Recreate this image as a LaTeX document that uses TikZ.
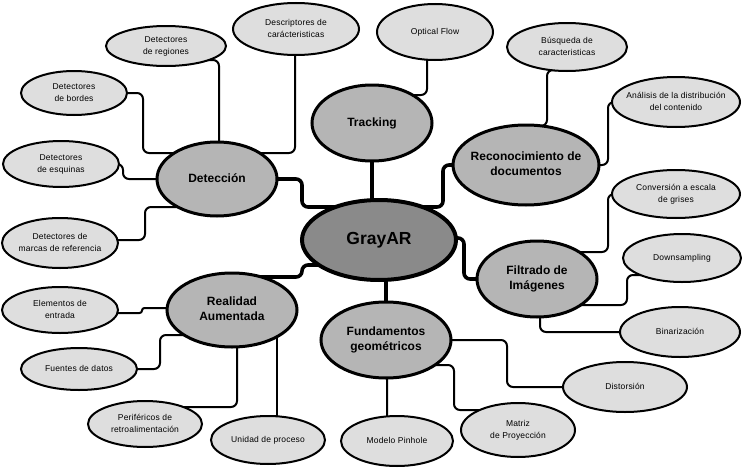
\documentclass[tikz,border=0pt]{standalone}
\usepackage{fontspec}
\setmainfont{Liberation Sans}
\newfontfamily\leaffont[LetterSpace=2]{Liberation Sans}
\usetikzlibrary{shapes.geometric,calc,backgrounds}
\definecolor{coregray}{HTML}{8A8A8A}
\definecolor{maingray}{HTML}{B5B5B5}
\definecolor{leafgray}{HTML}{DEDEDE}
\newcommand\lbl[1]{\makebox[0pt]{\begin{tabular}{@{}c@{}}#1\end{tabular}}}
\tikzset{
  ell/.style n args={2}{ellipse, inner sep=0pt, outer sep=0pt, minimum width=#1, minimum height=#2},
  core/.style={draw, line width=4pt, fill=coregray, font=\fontsize{17.5}{20}\selectfont\bfseries},
  mainnode/.style={draw, line width=3pt, fill=maingray, font=\fontsize{12}{15.5}\selectfont\bfseries},
  leafnode/.style={draw, line width=2pt, fill=leafgray, font=\leaffont\fontsize{8.5}{12}\selectfont},
  mainline/.style={line width=3.6pt, rounded corners=6pt},
  leafline/.style={line width=2pt, rounded corners=6pt},
}
\begin{document}
\begin{tikzpicture}[x=1pt,y=-1pt]
\useasboundingbox (0,0) rectangle (742,471);
% central and main nodes
\node[core, ell={154pt}{80pt}] (gray) at (379,240) {\lbl{GrayAR}};
\node[mainnode, ell={120pt}{76pt}] (trk) at (372,123) {\lbl{Tracking}};
\node[mainnode, ell={120pt}{74pt}] (det) at (217,179) {\lbl{Detección}};
\node[mainnode, ell={146pt}{80pt}] (rec) at (526,165) {\lbl{Reconocimiento de\\documentos}};
\node[mainnode, ell={120pt}{76pt}] (fil) at (537,279) {\lbl{Filtrado de\\Imágenes}};
\node[mainnode, ell={130pt}{74pt}] (ra) at (232,310) {\lbl{Realidad\\Aumentada}};
\node[mainnode, ell={130pt}{76pt}] (fun) at (386,340) {\lbl{Fundamentos\\geométricos}};
% leaves
\node[leafnode, ell={120pt}{40pt}] (reg) at (166,46) {\lbl{Detectores\\de regiones}};
\node[leafnode, ell={126pt}{52pt}] (desc) at (296,29) {\lbl{Descriptores de\\carácteristicas}};
\node[leafnode, ell={106pt}{44pt}] (bor) at (74,93) {\lbl{Detectores\\de bordes}};
\node[leafnode, ell={116pt}{46pt}] (esq) at (61,164) {\lbl{Detectores\\de esquinas}};
\node[leafnode, ell={116pt}{50pt}] (mar) at (60,243) {\lbl{Detectores de\\marcas de referencia}};
\node[leafnode, ell={116pt}{56pt}] (of) at (435,32) {\lbl{Optical Flow}};
\node[leafnode, ell={120pt}{48pt}] (bus) at (567,47) {\lbl{Búsqueda de\\caracteristicas}};
\node[leafnode, ell={128pt}{50pt}] (ana) at (676,102) {\lbl{Análisis de la distribución\\del contenido}};
\node[leafnode, ell={128pt}{48pt}] (conv) at (676,194) {\lbl{Conversión a escala\\de grises}};
\node[leafnode, ell={118pt}{48pt}] (down) at (682,258) {\lbl{Downsampling}};
\node[leafnode, ell={120pt}{50pt}] (bin) at (680,332) {\lbl{Binarización}};
\node[leafnode, ell={116pt}{46pt}] (ele) at (60,310) {\lbl{Elementos de\\entrada}};
\node[leafnode, ell={116pt}{42pt}] (fue) at (79,369) {\lbl{Fuentes de datos}};
\node[leafnode, ell={114pt}{46pt}] (per) at (145,424) {\lbl{Periféricos de\\retroalimentación}};
\node[leafnode, ell={114pt}{48pt}] (uni) at (268,440) {\lbl{Unidad de proceso}};
\node[leafnode, ell={112pt}{50pt}] (pin) at (397,441) {\lbl{Modelo Pinhole}};
\node[leafnode, ell={114pt}{54pt}] (mat) at (518,430) {\lbl{Matriz\\de Proyección}};
\node[leafnode, ell={124pt}{50pt}] (dis) at (625,387) {\lbl{Distorsión}};
\begin{scope}[on background layer]
\fill[white] (0,0) rectangle (742,471);
% main connectors
\draw[mainline] (trk) -- (trk |- gray);
\draw[mainline] (det) -| (302,207) -- (gray |- 302,207);
\draw[mainline] (rec) -| (443,207) -- (gray |- 443,207);
\draw[mainline] ($(gray)+(0,-2)$) -| (464,279) -- (fil);
\draw[mainline] ($(gray)+(0,25)$) -| (302,277) -- (ra |- 302,277);
\draw[mainline] (fun) -- (fun |- gray);
% leaf connectors
\draw[leafline] ($(of)+(-8,0)$) |- ($(trk)+(0,-28)$);
\draw[leafline] ($(bus)+(-10,23)$) -| ($(rec)+(21,-39)$) -- ($(rec)+(0,-39)$);
\draw[leafline] (ana) -| ($(rec)+(82,0)$) -- (rec);
\draw[leafline] (conv) -| ($(fil)+(71,-27)$) -- ($(fil)+(0,-27)$);
\draw[leafline] ($(down)+(-30,17)$) -| ($(fil)+(90,26)$) -- ($(fil)+(0,26)$);
\draw[leafline] ($(fil)+(3,0)$) |- (bin);
\draw[leafline] ($(reg)+(40,14)$) -| ($(det)+(2,0)$);
\draw[leafline] ($(desc)+(-1,0)$) |- ($(det)+(0,-26)$);
\draw[leafline] (bor) -| ($(det)+(-74,-26)$) -- ($(det)+(0,-26)$);
\draw[leafline] (esq) -| ($(det)+(-94,0)$) -- (det);
\draw[leafline] ($(mar)+(0,-3)$) -| ($(det)+(-72,28)$) -- ($(det)+(0,28)$);
\draw[leafline, rounded corners=2.5pt] ($(ele)+(0,3)$) -| ($(ra)+(-90,-2)$) -- ($(ra)+(0,-2)$);
\draw[leafline] (fue) -| ($(ra)+(-72,25)$) -- ($(ra)+(0,25)$);
\draw[leafline] ($(per)+(30,-17)$) -| ($(ra)+(5,0)$);
\draw[leafline] ($(uni)+(9,0)$) -- ($(ra)+(45,0)$);
\draw[leafline] ($(fun)+(1,0)$) |- (pin);
\draw[leafline] ($(fun)+(0,25)$) -| ($(mat)+(-64,-20)$) -- ($(mat)+(0,-20)$);
\draw[leafline] (fun) -| ($(dis)+(-118,0)$) -- (dis);
\end{scope}
\end{tikzpicture}
\end{document}
